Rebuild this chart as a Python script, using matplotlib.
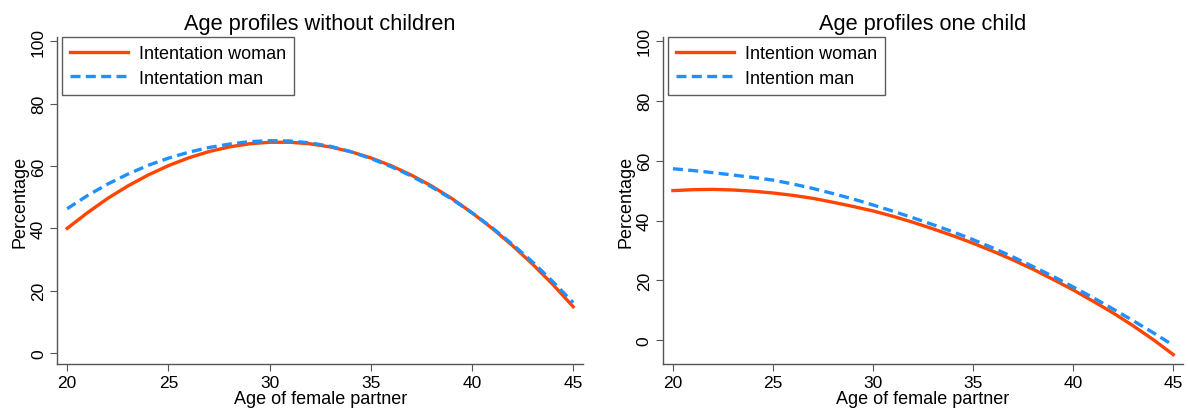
import matplotlib
matplotlib.use("Agg")
import matplotlib.pyplot as plt

plt.rcParams["font.family"] = ["Liberation Sans", "DejaVu Sans"]

ages = list(range(20, 46))

# Age profiles without children
woman_0 = [40.0, 45.0, 49.6, 53.6, 57.1, 60.1, 62.6, 64.6, 66.1, 67.1, 67.6, 67.6, 67.1,
           66.1, 64.6, 62.6, 60.1, 57.1, 53.6, 49.6, 45.0, 40.0, 34.5, 28.5, 22.0, 14.9]
man_0 = [46.3, 50.5, 54.2, 57.4, 60.2, 62.5, 64.4, 65.9, 67.0, 67.8, 68.1, 68.0, 67.4,
         66.3, 64.6, 62.4, 59.8, 56.8, 53.3, 49.4, 45.0, 40.2, 34.9, 29.2, 22.9, 16.2]

# Age profiles one child
woman_1 = [50.0, 50.3, 50.4, 50.2, 49.8, 49.2, 48.4, 47.4, 46.1, 44.7, 43.2, 41.4, 39.4,
           37.2, 34.9, 32.4, 29.7, 26.8, 23.7, 20.3, 16.8, 13.0, 9.1, 4.8, 0.2, -4.8]
man_1 = [57.3, 56.7, 56.0, 55.2, 54.4, 53.5, 52.2, 50.7, 49.0, 47.2, 45.2, 43.1, 40.9,
         38.6, 36.2, 33.6, 30.8, 27.8, 24.6, 21.3, 17.8, 14.2, 10.4, 6.5, 2.5, -1.7]

panels = [
    ("Age profiles without children", woman_0, man_0,
     ["Intentation woman", "Intentation man"], [0.048, 0.118, 0.443, 0.79], (-3.5, 101.3)),
    ("Age profiles one child", woman_1, man_1,
     ["Intention woman", "Intention man"], [0.558, 0.118, 0.438, 0.79], (-8.0, 101.3)),
]

fig = plt.figure(figsize=(11.88, 4.14), dpi=100)
axis_col = "#555555"

for title, w, m, labels, pos, ylim in panels:
    ax = fig.add_axes(pos)
    ax.plot(ages, w, color="#ff4500", lw=2.4, label=labels[0])
    ax.plot(ages, m, color="#1e90ff", lw=2.4, ls=(0, (3, 1.6)), label=labels[1])
    ax.set_xlim(19.5, 45.5)
    ax.set_ylim(*ylim)
    ax.set_xticks([20, 25, 30, 35, 40, 45])
    ax.set_yticks([0, 20, 40, 60, 80, 100])
    for s in ["top", "right"]:
        ax.spines[s].set_visible(False)
    for s in ["left", "bottom"]:
        ax.spines[s].set_color(axis_col)
        ax.spines[s].set_linewidth(1.0)
    ax.tick_params(direction="out", length=5, color=axis_col, labelsize=12.5, pad=3)
    for lab in ax.get_yticklabels():
        lab.set_rotation(90)
        lab.set_va("center")
    ax.set_title(title, fontsize=15.7, pad=6)
    ax.set_xlabel("Age of female partner", fontsize=13, labelpad=0)
    ax.set_ylabel("Percentage", fontsize=13, labelpad=2)
    leg = ax.legend(loc="upper left", bbox_to_anchor=(0.01, 1.0), fontsize=13,
                    frameon=True, fancybox=False, handlelength=3.2, borderpad=0.45,
                    labelspacing=0.42, handletextpad=0.6, borderaxespad=0.0)
    leg.get_frame().set_edgecolor("#333333")
    leg.get_frame().set_linewidth(1.0)

fig.savefig("out.png", dpi=100)
